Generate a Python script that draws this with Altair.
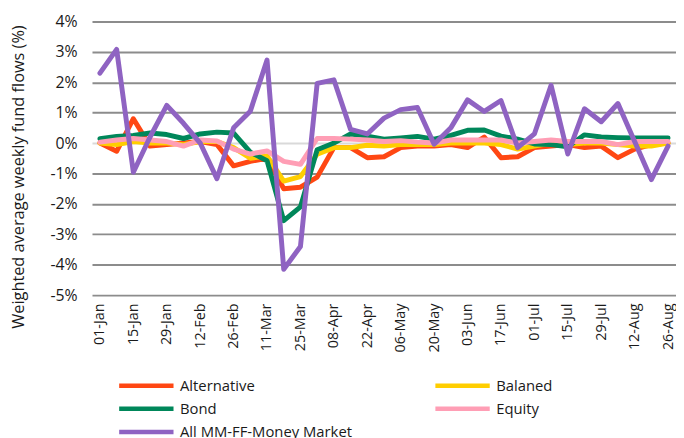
import altair as alt
import pandas as pd

weeks = ["01-Jan", "08-Jan", "15-Jan", "22-Jan", "29-Jan", "05-Feb", "12-Feb", "19-Feb",
         "26-Feb", "04-Mar", "11-Mar", "18-Mar", "25-Mar", "01-Apr", "08-Apr", "15-Apr",
         "22-Apr", "29-Apr", "06-May", "13-May", "20-May", "27-May", "03-Jun", "10-Jun",
         "17-Jun", "24-Jun", "01-Jul", "08-Jul", "15-Jul", "22-Jul", "29-Jul", "05-Aug",
         "12-Aug", "19-Aug", "26-Aug"]

alternative = [0.0, -0.27, 0.8, -0.1, -0.05, 0.0, 0.05, -0.05, -0.75, -0.6, -0.5, -1.5,
               -1.45, -1.12, -0.15, -0.15, -0.48, -0.45, -0.15, -0.1, -0.1, -0.05, -0.15,
               0.2, -0.48, -0.45, -0.15, -0.1, -0.05, -0.15, -0.1, -0.48, -0.2, -0.05, 0.0]
balanced = [0.0, -0.05, 0.05, 0.0, 0.0, -0.05, 0.05, 0.05, -0.15, -0.5, -0.42, -1.25,
            -1.1, -0.37, -0.15, -0.15, -0.07, -0.1, -0.05, -0.05, -0.05, 0.0, 0.0, 0.0,
            -0.05, -0.2, -0.1, 0.0, -0.05, 0.0, 0.0, -0.05, -0.1, -0.1, 0.0]
bond = [0.14, 0.22, 0.25, 0.33, 0.28, 0.15, 0.3, 0.36, 0.33, -0.3, -0.58, -2.55,
        -2.1, -0.22, 0.0, 0.3, 0.23, 0.13, 0.17, 0.22, 0.13, 0.25, 0.42, 0.43,
        0.23, 0.13, -0.03, -0.05, -0.12, 0.27, 0.2, 0.18, 0.17, 0.17, 0.17]
equity = [0.03, 0.1, 0.15, 0.1, 0.05, -0.1, 0.1, 0.07, -0.2, -0.36, -0.26, -0.6,
          -0.7, 0.15, 0.15, 0.13, 0.1, 0.05, 0.08, 0.03, 0.0, 0.1, 0.1, 0.1,
          0.1, 0.0, 0.05, 0.1, 0.05, 0.05, 0.05, -0.05, 0.05, 0.05, 0.05]
all_mm = [2.3, 3.08, -0.96, 0.2, 1.24, 0.65, 0.0, -1.17, 0.5, 1.05, 2.73, -4.15,
          -3.4, 1.96, 2.08, 0.45, 0.3, 0.82, 1.1, 1.17, -0.04, 0.5, 1.42, 1.04,
          1.4, -0.15, 0.3, 1.9, -0.36, 1.13, 0.7, 1.3, 0.05, -1.2, -0.1]

series_names = ["Alternative", "Balaned", "Bond", "Equity", "All MM-FF-Money Market"]
series_values = [alternative, balanced, bond, equity, all_mm]
series_colors = {"Alternative": "#FF4713", "Balaned": "#FFCE00", "Bond": "#00875A",
                 "Equity": "#FF9EB5", "All MM-FF-Money Market": "#8F63C2"}
# legend fills column by column: this order shows rows
# Alternative | Balaned / Bond | Equity / All MM-FF-Money Market
legend_order = ["Alternative", "Bond", "All MM-FF-Money Market", "Balaned", "Equity"]
y_ticks = [-5, -4, -3, -2, -1, 0, 1, 2, 3, 4]

rows = []
for name, vals in zip(series_names, series_values):
    for w, v in zip(weeks, vals):
        rows.append({"week": w, "series": name, "value": v})
df = pd.DataFrame(rows)

FONT = "Open Sans"
TXT = "#1a1a1a"

chart = alt.Chart(df).mark_line(strokeWidth=5, strokeJoin="round", strokeCap="round").encode(
    x=alt.X("week:O", sort=weeks,
            scale=alt.Scale(type="point", padding=0.475),
            axis=alt.Axis(values=weeks[::2], labelAngle=-90, title=None, ticks=False,
                          domain=False, grid=False, labelPadding=8, labelFontSize=14.5,
                          labelFont=FONT, labelColor=TXT)),
    y=alt.Y("value:Q",
            scale=alt.Scale(domain=[-5, 4], nice=False, zero=False),
            axis=alt.Axis(values=y_ticks, labelExpr="datum.value + '%'", ticks=False,
                          domain=False, labelPadding=15, labelFontSize=16, labelFont=FONT,
                          labelColor=TXT,
                          gridColor={"condition": {"test": "datum.value === 0", "value": "#d9d9d9"},
                                     "value": "#8c8c8c"},
                          gridWidth=2,
                          title="Weighted average weekly fund flows (%)",
                          titleFont=FONT, titleFontSize=16.5, titleFontWeight="normal",
                          titleColor=TXT, titleX=-74, titleY=157,
                          titleAngle=270, titleAlign="center", titleBaseline="middle")),
    color=alt.Color("series:N",
                    scale=alt.Scale(domain=legend_order,
                                    range=[series_colors[s] for s in legend_order]),
                    legend=alt.Legend(title=None, orient="none", legendX=41.5, legendY=355,
                                      columns=2, columnPadding=75, rowPadding=0.5,
                                      symbolType="M-2.5,0H2.5", symbolSize=484,
                                      symbolStrokeWidth=4.5, labelFontSize=15,
                                      labelFont=FONT, labelColor=TXT, labelLimit=400,
                                      labelOffset=20.5)),
).properties(
    width=591, height=277,
    autosize=alt.AutoSizeParams(type="none"),
    padding={"left": 85, "top": 11, "right": 0, "bottom": 142},
).configure_view(stroke=None)

chart.save("out.html", embed_options={"renderer": "svg", "actions": False})
